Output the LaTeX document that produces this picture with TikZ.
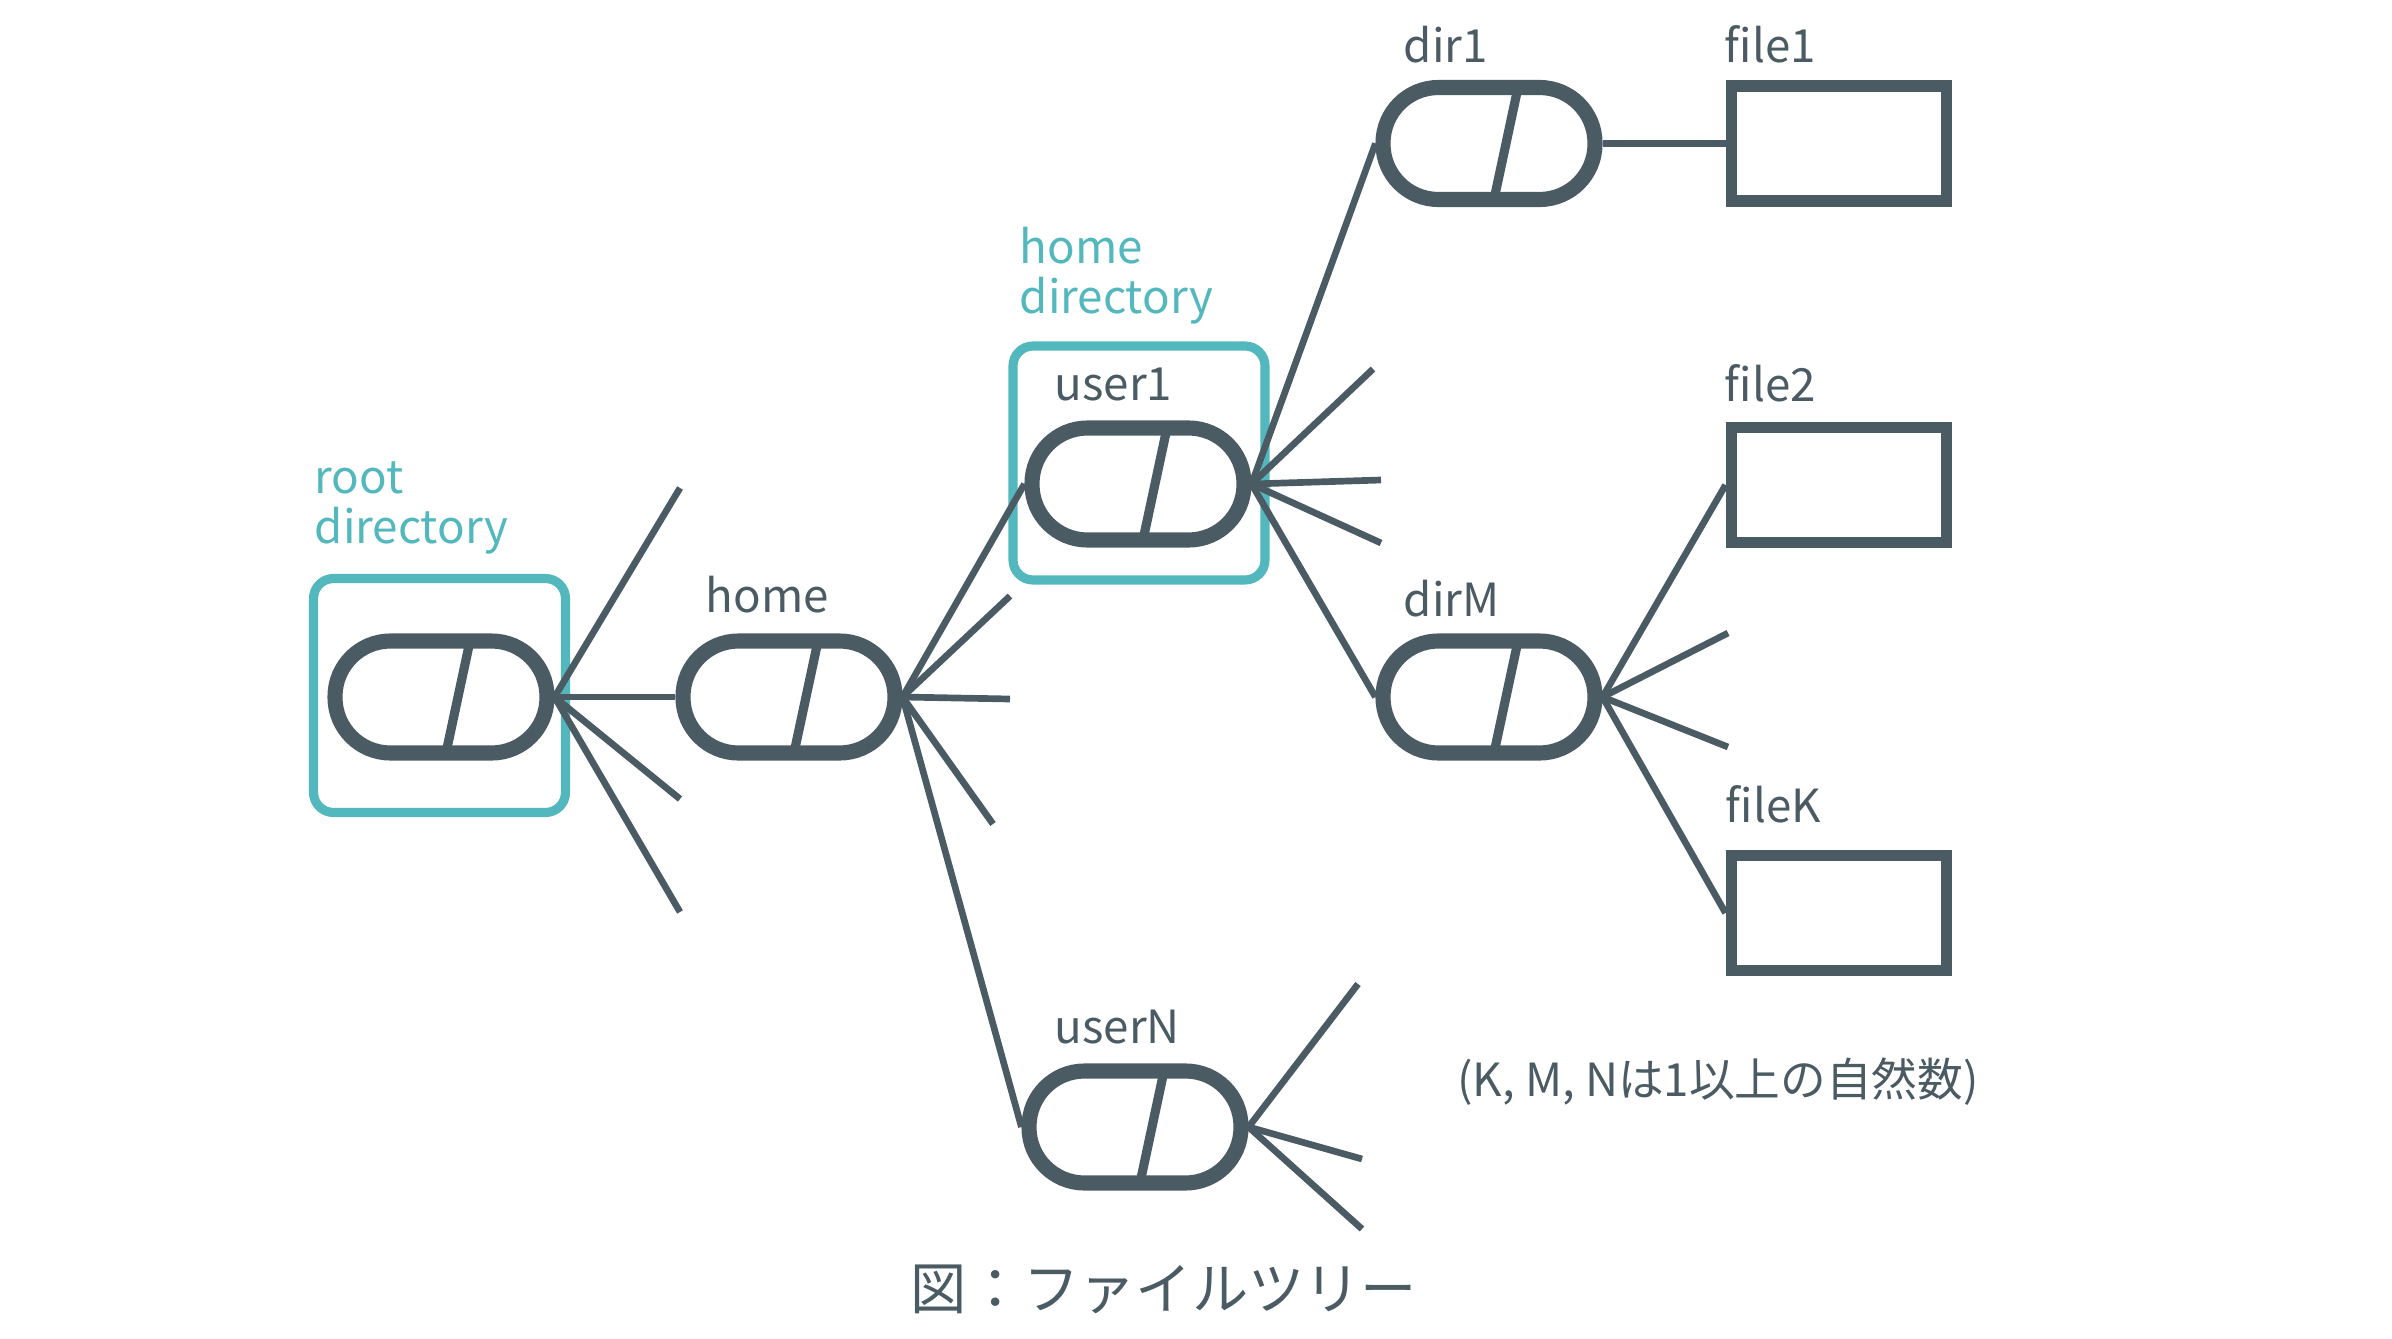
\documentclass[tikz,border=0pt]{standalone}
\usepackage{fontspec}
\setmainfont{Noto Sans CJK JP}
\definecolor{slate}{HTML}{4B5B63}
\definecolor{cyanish}{HTML}{52B8BE}
\tikzset{
    dirnode/.style={rectangle, rounded corners=0.555cm, draw=slate, line width=4.3pt, minimum width=2.12cm, minimum height=1.12cm,
        path picture={\draw[slate, line width=2.6pt] ([xshift=0.29cm]path picture bounding box.north) -- ([xshift=0.05cm]path picture bounding box.south);}},
    filenode/.style={rectangle, draw=slate, line width=3.4pt, minimum width=2.15cm, minimum height=1.15cm},
    hilite/.style={rectangle, draw=cyanish, line width=2.6pt, rounded corners=0.2cm, minimum width=2.52cm, minimum height=2.34cm},
    branch/.style={slate, line width=1.9pt},
    lbl/.style={slate, anchor=base west, inner sep=0pt, font=\fontsize{13}{14}\selectfont},
    hilitelbl/.style={cyanish, anchor=base west, inner sep=0pt, align=left, font=\fontsize{13}{14}\selectfont}
}
\begin{document}
\begin{tikzpicture}
    \useasboundingbox (0,0) rectangle (23.92,13.38);
    % highlighted directories
    \node[hilite] (rootbox) at (4.395,6.425) {};
    \node[hilite] (user1box) at (11.39,8.75) {};
    \node[hilitelbl] (rootlbl) at (3.14,7.95) {root\\directory};
    \node[hilitelbl] (homedirlbl) at (10.19,10.25) {home\\directory};
    % directories
    \node[dirnode] (root) at (4.41,6.41) {};
    \node[dirnode] (home) at (7.89,6.41) {};
    \node[dirnode] (user1) at (11.38,8.54) {};
    \node[dirnode] (userN) at (11.35,2.11) {};
    \node[dirnode] (dir1) at (14.89,11.945) {};
    \node[dirnode] (dirM) at (14.89,6.41) {};
    % files
    \node[filenode] (file1) at (18.39,11.945) {};
    \node[filenode] (file2) at (18.39,8.53) {};
    \node[filenode] (fileK) at (18.39,4.25) {};
    % names
    \node[lbl] (homelbl) at (7.05,7.26) {home};
    \node[lbl] (user1lbl) at (10.54,9.38) {user1};
    \node[lbl] (userNlbl) at (10.54,2.95) {userN};
    \node[lbl] (dir1lbl) at (14.03,12.75) {dir1};
    \node[lbl] (dirMlbl) at (14.03,7.22) {dirM};
    \node[lbl] (file1lbl) at (17.24,12.75) {file1};
    \node[lbl] (file2lbl) at (17.24,9.37) {file2};
    \node[lbl] (fileKlbl) at (17.25,5.16) {fileK};
    % free branch ends
    \coordinate (r1) at (6.80,8.50);
    \coordinate (r2) at (6.80,5.39);
    \coordinate (r3) at (6.80,4.26);
    \coordinate (h1) at (10.10,7.42);
    \coordinate (h2) at (10.10,6.39);
    \coordinate (h3) at (9.93,5.14);
    \coordinate (u1) at (13.73,9.69);
    \coordinate (u2) at (13.81,8.58);
    \coordinate (u3) at (13.81,7.95);
    \coordinate (m1) at (17.28,7.05);
    \coordinate (m2) at (17.28,5.91);
    \coordinate (n1) at (13.58,3.54);
    \coordinate (n2) at (13.62,1.79);
    \coordinate (n3) at (13.62,1.09);
    % branches
    \draw[branch] (root.east) -- (home.west);
    \foreach \e in {r1,r2,r3} \draw[branch] (root.east) -- (\e);
    \draw[branch] (home.east) -- (user1.west);
    \draw[branch] (home.east) -- (userN.west);
    \foreach \e in {h1,h2,h3} \draw[branch] (home.east) -- (\e);
    \draw[branch] (user1.east) -- (dir1.west);
    \draw[branch] (user1.east) -- (dirM.west);
    \foreach \e in {u1,u2,u3} \draw[branch] (user1.east) -- (\e);
    \draw[branch] (dir1.east) -- (file1.west);
    \draw[branch] (dirM.east) -- (file2.west);
    \draw[branch] (dirM.east) -- (fileK.west);
    \foreach \e in {m1,m2} \draw[branch] (dirM.east) -- (\e);
    \foreach \e in {n1,n2,n3} \draw[branch] (userN.east) -- (\e);
    % note and caption
    \node[slate, font=\fontsize{13}{14}\selectfont] (note) at (17.18,2.56) {(K, M, Nは1以上の自然数)};
    \node[slate, font=\fontsize{16}{18}\selectfont] (caption) at (11.64,0.49) {図：ファイルツリー};
\end{tikzpicture}
\end{document}
